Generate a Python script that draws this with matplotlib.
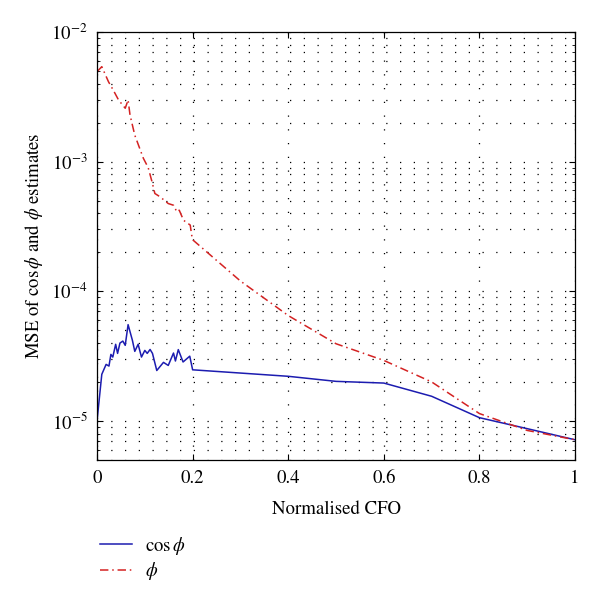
import numpy as np
import matplotlib
matplotlib.use('Agg')
import matplotlib.pyplot as plt
from matplotlib.ticker import LogLocator, NullFormatter

plt.rcParams['font.family'] = 'STIXGeneral'
plt.rcParams['mathtext.fontset'] = 'stix'

# MSE of cos(phi) estimate vs normalised CFO
cfo_cos = [0.0, 0.01, 0.019, 0.025, 0.029, 0.033, 0.039, 0.043, 0.048, 0.054,
           0.059, 0.065, 0.070, 0.074, 0.079, 0.086, 0.093, 0.100, 0.105, 0.111,
           0.116, 0.125, 0.139, 0.149, 0.160, 0.164, 0.170, 0.180, 0.194, 0.200,
           0.4, 0.5, 0.6, 0.7, 0.8, 0.9, 1.0]
mse_cos = [1.0e-5, 2.29e-5, 2.73e-5, 2.65e-5, 3.26e-5, 3.11e-5, 3.90e-5, 3.32e-5, 3.99e-5, 4.13e-5,
           3.83e-5, 5.53e-5, 4.74e-5, 4.19e-5, 3.44e-5, 3.90e-5, 3.11e-5, 3.50e-5, 3.32e-5, 3.56e-5,
           3.32e-5, 2.45e-5, 2.83e-5, 2.68e-5, 3.34e-5, 2.90e-5, 3.55e-5, 2.85e-5, 3.16e-5, 2.48e-5,
           2.21e-5, 2.02e-5, 1.96e-5, 1.55e-5, 1.06e-5, 8.72e-6, 7.16e-6]

# MSE of phi estimate vs normalised CFO
cfo_phi = [0.0, 0.01, 0.024, 0.034, 0.045, 0.059, 0.065, 0.069, 0.079, 0.097,
           0.107, 0.115, 0.121, 0.132, 0.149, 0.160, 0.167, 0.172, 0.181, 0.195,
           0.198, 0.201, 0.3, 0.4, 0.5, 0.6, 0.7, 0.8, 0.9, 1.0]
mse_phi = [4.94e-3, 5.4e-3, 4.13e-3, 3.56e-3, 2.99e-3, 2.58e-3, 2.99e-3, 2.29e-3, 1.60e-3, 1.06e-3,
           9.0e-4, 7.0e-4, 5.68e-4, 5.35e-4, 4.75e-4, 4.61e-4, 4.10e-4, 4.22e-4, 3.53e-4, 3.24e-4,
           2.71e-4, 2.48e-4, 1.2e-4, 6.5e-5, 3.94e-5, 2.93e-5, 2.0e-5, 1.14e-5, 8.45e-6, 7.16e-6]

fig = plt.figure(figsize=(6.0, 6.02), dpi=100)
ax = fig.add_axes([0.1617, 0.2359, 0.7967, 0.7110])

l1, = ax.plot(cfo_cos, mse_cos, color='#1c1cb0', lw=1.1, label=r'$\cos\phi$')
l2, = ax.plot(cfo_phi, mse_phi, color='#d42222', lw=1.1, dashes=(5.5, 2.5, 1, 2.5), label=r'$\phi$')

ax.set_yscale('log')
ax.set_xlim(0, 1)
ax.set_ylim(5e-6, 1e-2)
ax.set_xticks([0, 0.2, 0.4, 0.6, 0.8, 1.0])
ax.set_xticklabels(['0', '0.2', '0.4', '0.6', '0.8', '1'])
ax.yaxis.set_major_locator(LogLocator(base=10, numticks=10))
ax.yaxis.set_minor_locator(LogLocator(base=10, subs=np.arange(2, 10), numticks=20))
ax.yaxis.set_minor_formatter(NullFormatter())

grid_kw = dict(color='black', linestyle=(0, (1, 10)), linewidth=0.9)
ax.grid(True, which='major', axis='both', **grid_kw)
ax.grid(True, which='minor', axis='y', **grid_kw)

ax.tick_params(which='both', direction='in', top=True, right=True, labelsize=13.5)
ax.tick_params(which='major', length=4, width=0.8, pad=7)
ax.tick_params(which='minor', length=2.5, width=0.6)
for s in ax.spines.values():
    s.set_linewidth(0.9)

ax.set_xlabel('Normalised CFO', fontsize=13.5, labelpad=10)
ax.set_ylabel(r'MSE of $\cos\phi$ and $\phi$ estimates', fontsize=13.5)
ax.yaxis.set_label_coords(-0.108, 0.5)

fig.legend(handles=[l1, l2], loc='upper left', bbox_to_anchor=(0.138, 0.14),
           frameon=False, fontsize=13.5, handlelength=1.75, handletextpad=0.65,
           labelspacing=0.2)

fig.savefig('out.png', dpi=100)
